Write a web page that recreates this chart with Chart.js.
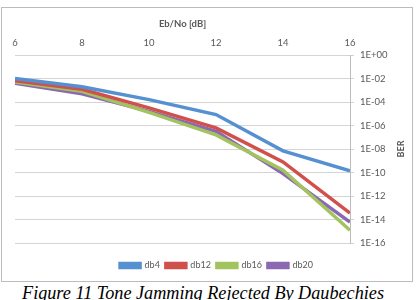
<!DOCTYPE html>
<html>
<head>
<meta charset="utf-8">
<script src="https://cdn.jsdelivr.net/npm/chart.js@4"></script>
<style>
  body { margin: 0; background: #fff; }
  #wrap { position: relative; width: 418px; height: 300px; overflow: hidden; }
  #frame { position: absolute; left: 1px; top: 7px; width: 410px; height: 273px; border: 1px solid #bcbcbc; }
  #chartBox { position: absolute; left: 0; top: 0; width: 418px; height: 280px; }
  #caption { position: absolute; left: -6px; width: 418px; top: 284px; text-align: center; line-height: 18px;
             font-family: "Liberation Serif", serif; font-style: italic; font-size: 18.2px; color: #000; white-space: nowrap; }
</style>
</head>
<body>
<div id="wrap">
  <div id="frame"></div>
  <div id="chartBox"><canvas id="ber" width="418" height="280"></canvas></div>
  <div id="caption">Figure 11 Tone Jamming Rejected By Daubechies</div>
</div>
<script>
'use strict';
// Eb/No points (dB)
var ebno = [6, 8, 10, 12, 14, 16];
// BER
var db4  = [1.0e-2, 2.0e-3, 1.6e-4, 8.5e-6, 7.0e-9, 1.4e-10];
var db12 = [6.3e-3, 1.2e-3, 3.2e-5, 6.3e-7, 8.0e-10, 3.5e-14];
var db16 = [5.0e-3, 8.0e-4, 1.3e-5, 1.6e-7, 1.6e-10, 1.2e-15];
var db20 = [4.0e-3, 5.0e-4, 1.6e-5, 3.2e-7, 8.0e-11, 6.0e-15];
var yTickValues = [1e0, 1e-2, 1e-4, 1e-6, 1e-8, 1e-10, 1e-12, 1e-14, 1e-16];
var yTickLabels = ['1E+00', '1E-02', '1E-04', '1E-06', '1E-08', '1E-10', '1E-12', '1E-14', '1E-16'];
var xTicks = [6, 8, 10, 12, 14, 16];

function pts(arr) {
    return ebno.map(function (x, i) { return { x: x, y: arr[i] }; });
}
function line(label, arr, color) {
    return {
        label: label,
        data: pts(arr),
        borderColor: color,
        backgroundColor: color,
        borderWidth: 3.5,
        pointRadius: 0,
        tension: 0,
        fill: false
    };
}

var txt = '#595959';
var fontFam = 'Lato, "Liberation Sans", sans-serif';

// vertical "BER" title on the right, reading bottom to top
var berTitle = {
    id: 'berTitle',
    afterDraw: function (chart) {
        var ctx = chart.ctx;
        ctx.save();
        ctx.translate(401, 149);
        ctx.rotate(-Math.PI / 2);
        ctx.font = 'bold 9px ' + fontFam;
        ctx.fillStyle = txt;
        ctx.textAlign = 'center';
        ctx.textBaseline = 'middle';
        ctx.fillText('BER', 0, 0);
        ctx.restore();
    }
};

// push the legend a bit lower, away from the plot
var legendShift = {
    id: 'legendShift',
    afterLayout: function (chart) {
        if (chart.legend) {
            chart.legend.top += 12;
            chart.legend.bottom += 12;
        }
    }
};

var ctx = document.getElementById('ber');
var berChart = new Chart(ctx, {
    type: 'line',
    data: {
        datasets: [
            line('db4', db4, '#5590D0'),
            line('db12', db12, '#D0504C'),
            line('db16', db16, '#A3C35E'),
            line('db20', db20, '#8A68B2')
        ]
    },
    options: {
        responsive: false,
        animation: false,
        devicePixelRatio: 1,
        layout: { padding: { left: 15, right: 0, top: 0, bottom: 12 } },
        plugins: {
            legend: {
                position: 'bottom',
                labels: {
                    boxWidth: 20,
                    boxHeight: 4,
                    padding: 6,
                    color: txt,
                    font: { family: fontFam, size: 9 }
                }
            },
            tooltip: { enabled: false }
        },
        scales: {
            x: {
                type: 'linear',
                position: 'top',
                min: 6,
                max: 16,
                afterBuildTicks: function (scale) {
                    scale.ticks = xTicks.map(function (v) { return { value: v }; });
                },
                afterFit: function (scale) { scale.height = 55; },
                ticks: { color: txt, font: { family: fontFam, size: 9.5 }, padding: 6, maxRotation: 0 },
                grid: { display: false, drawTicks: false },
                border: { display: false },
                title: {
                    display: true,
                    text: 'Eb/No [dB]',
                    color: txt,
                    font: { family: fontFam, size: 9.5, weight: 'bold' },
                    padding: { top: 18, bottom: 4 }
                }
            },
            y: {
                type: 'logarithmic',
                position: 'right',
                min: 1e-16,
                max: 1,
                afterBuildTicks: function (scale) {
                    scale.ticks = yTickValues.map(function (v) { return { value: v }; });
                },
                afterFit: function (scale) { scale.width = 68; },
                ticks: {
                    color: txt,
                    font: { family: fontFam, size: 9.5 },
                    padding: 6,
                    callback: function (v) {
                        var i = yTickValues.indexOf(v);
                        return i >= 0 ? yTickLabels[i] : '';
                    }
                },
                grid: { color: '#d4d4d4', lineWidth: 1, tickLength: 4, drawTicks: true },
                border: { display: true, color: '#bcbcbc' }
            }
        }
    },
    plugins: [berTitle, legendShift]
});
</script>
</body>
</html>
